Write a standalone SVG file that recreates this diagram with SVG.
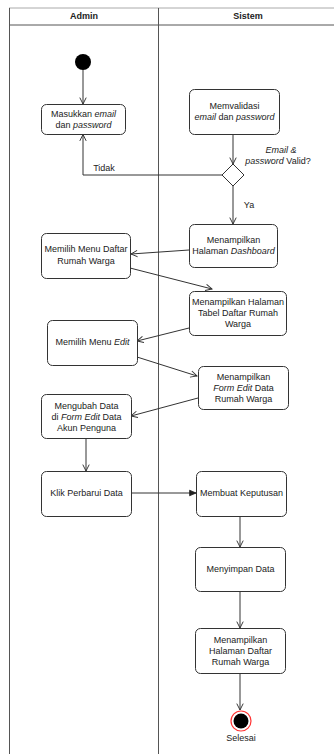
<svg xmlns="http://www.w3.org/2000/svg" width="334" height="754" viewBox="0 0 334 754">
  <defs>
    <style>
      .lane { fill: none; stroke: #555; stroke-width: 1; }
      .box { fill: #fff; stroke: #333; stroke-width: 1; }
      .t { font-family: "Liberation Sans", Arial, sans-serif; font-size: 9px; fill: #222; text-anchor: middle; }
      .h { font-family: "Liberation Sans", Arial, sans-serif; font-size: 9px; font-weight: bold; fill: #222; text-anchor: middle; }
      .i { font-style: italic; }
      .edge { fill: none; stroke: #333; stroke-width: 1; }
      .open { marker-end: url(#openArrow); }
      .solid { marker-end: url(#blockArrow); }
    </style>
    <marker id="openArrow" viewBox="0 0 10 10" refX="9" refY="5" markerWidth="8" markerHeight="8" markerUnits="userSpaceOnUse" orient="auto">
      <path d="M1,1 L9,5 L1,9" fill="none" stroke="#333" stroke-width="1.2"/>
    </marker>
    <marker id="blockArrow" viewBox="0 0 10 10" refX="9" refY="5" markerWidth="8" markerHeight="8" markerUnits="userSpaceOnUse" orient="auto">
      <path d="M1,1.5 L9,5 L1,8.5 Z" fill="#222" stroke="#222" stroke-width="1"/>
    </marker>
  </defs>

  <!-- swimlane frame -->
  <g id="lanes">
    <line x1="9" y1="8" x2="334" y2="8" stroke="#aaa"/>
    <line x1="9" y1="25" x2="334" y2="25" stroke="#555"/>
    <line x1="9.5" y1="8" x2="9.5" y2="754" class="lane"/>
    <line x1="158.5" y1="8" x2="158.5" y2="754" class="lane"/>
    <text class="h" x="84" y="19">Admin</text>
    <text class="h" x="248" y="19">Sistem</text>
  </g>

  <!-- connectors -->
  <g id="connectors">
    <line class="edge open" x1="83" y1="70" x2="83" y2="104"/>
    <line class="edge open" x1="233" y1="134" x2="233" y2="164"/>
    <polyline class="edge open" points="222,175 83,175 83,134.5"/>
    <text class="t" x="104" y="171">Tidak</text>
    <line class="edge open" x1="233" y1="186" x2="233" y2="224"/>
    <text class="t" x="249" y="208">Ya</text>
    <text class="t i" x="281" y="153">Email &amp;</text>
    <text class="t" x="278" y="164"><tspan class="i">password</tspan> Valid?</text>
    <line class="edge open" x1="189" y1="250" x2="131" y2="254"/>
    <line class="edge open" x1="130" y1="268" x2="212" y2="289"/>
    <line class="edge open" x1="189" y1="328" x2="137" y2="341"/>
    <line class="edge open" x1="137" y1="357" x2="197" y2="376"/>
    <line class="edge open" x1="198" y1="398" x2="131" y2="416"/>
    <line class="edge open" x1="86" y1="438" x2="86" y2="471"/>
    <line class="edge solid" x1="131" y1="493" x2="196" y2="493"/>
    <line class="edge open" x1="240" y1="516" x2="240" y2="547"/>
    <line class="edge open" x1="240" y1="591" x2="240" y2="628"/>
    <line class="edge open" x1="240" y1="673" x2="240" y2="710"/>
  </g>

  <g id="start">
    <circle cx="83" cy="62" r="8" fill="#000"/>
  </g>

  <g id="masukkan">
    <rect class="box" x="41.5" y="104.5" width="84" height="30" rx="5"/>
    <text class="t" x="83.5" y="117">Masukkan <tspan class="i">email</tspan></text>
    <text class="t" x="83.5" y="128"><tspan>dan </tspan><tspan class="i">password</tspan></text>
  </g>

  <g id="memvalidasi">
    <rect class="box" x="189.5" y="89.5" width="90" height="45" rx="5"/>
    <text class="t" x="234.5" y="109">Memvalidasi</text>
    <text class="t" x="234.5" y="120"><tspan class="i">email</tspan> dan <tspan class="i">password</tspan></text>
  </g>

  <g id="keputusan">
    <polygon points="233,164 244,175 233,186 222,175" fill="#fff" stroke="#333"/>
  </g>

  <g id="dashboard">
    <rect class="box" x="189.5" y="224.5" width="88" height="43" rx="5"/>
    <text class="t" x="233.5" y="243">Menampilkan</text>
    <text class="t" x="233.5" y="254">Halaman <tspan class="i">Dashboard</tspan></text>
  </g>

  <g id="pilih-daftar">
    <rect class="box" x="41.5" y="233.5" width="89" height="45" rx="5"/>
    <text class="t" x="86" y="252">Memilih Menu Daftar</text>
    <text class="t" x="86" y="264">Rumah Warga</text>
  </g>

  <g id="tabel-daftar">
    <rect class="box" x="189.5" y="291.5" width="97" height="44" rx="5"/>
    <text class="t" x="238" y="305">Menampilkan Halaman</text>
    <text class="t" x="238" y="316">Tabel Daftar Rumah</text>
    <text class="t" x="238" y="327">Warga</text>
  </g>

  <g id="pilih-edit">
    <rect class="box" x="47.5" y="320.5" width="90" height="45" rx="5"/>
    <text class="t" x="92.5" y="345">Memilih Menu <tspan class="i">Edit</tspan></text>
  </g>

  <g id="form-edit">
    <rect class="box" x="198.5" y="366.5" width="90" height="43" rx="5"/>
    <text class="t" x="243.5" y="380">Menampilkan</text>
    <text class="t" x="243.5" y="391"><tspan class="i">Form Edit</tspan> Data</text>
    <text class="t" x="243.5" y="402">Rumah Warga</text>
  </g>

  <g id="ubah-data">
    <rect class="box" x="41.5" y="394.5" width="90" height="44" rx="5"/>
    <text class="t" x="86.5" y="409">Mengubah Data</text>
    <text class="t" x="86.5" y="420">di <tspan class="i">Form Edit</tspan> Data</text>
    <text class="t" x="86.5" y="431">Akun Penguna</text>
  </g>

  <g id="klik-perbarui">
    <rect class="box" x="41.5" y="471.5" width="90" height="45" rx="5"/>
    <text class="t" x="86.5" y="496">Klik Perbarui Data</text>
  </g>

  <g id="buat-keputusan">
    <rect class="box" x="196.5" y="471.5" width="90" height="45" rx="5"/>
    <text class="t" x="241.5" y="496">Membuat Keputusan</text>
  </g>

  <g id="simpan">
    <rect class="box" x="195.5" y="547.5" width="90" height="44" rx="5"/>
    <text class="t" x="240.5" y="572">Menyimpan Data</text>
  </g>

  <g id="tampil-daftar">
    <rect class="box" x="195.5" y="628.5" width="90" height="45" rx="5"/>
    <text class="t" x="240.5" y="643">Menampilkan</text>
    <text class="t" x="240.5" y="654">Halaman Daftar</text>
    <text class="t" x="240.5" y="665">Rumah Warga</text>
  </g>

  <g id="selesai">
    <circle cx="241" cy="721" r="10" fill="#fff" stroke="#f33" stroke-width="1.2"/>
    <circle cx="241" cy="721" r="7.5" fill="#000"/>
    <text class="t" x="241" y="741">Selesai</text>
  </g>
</svg>
